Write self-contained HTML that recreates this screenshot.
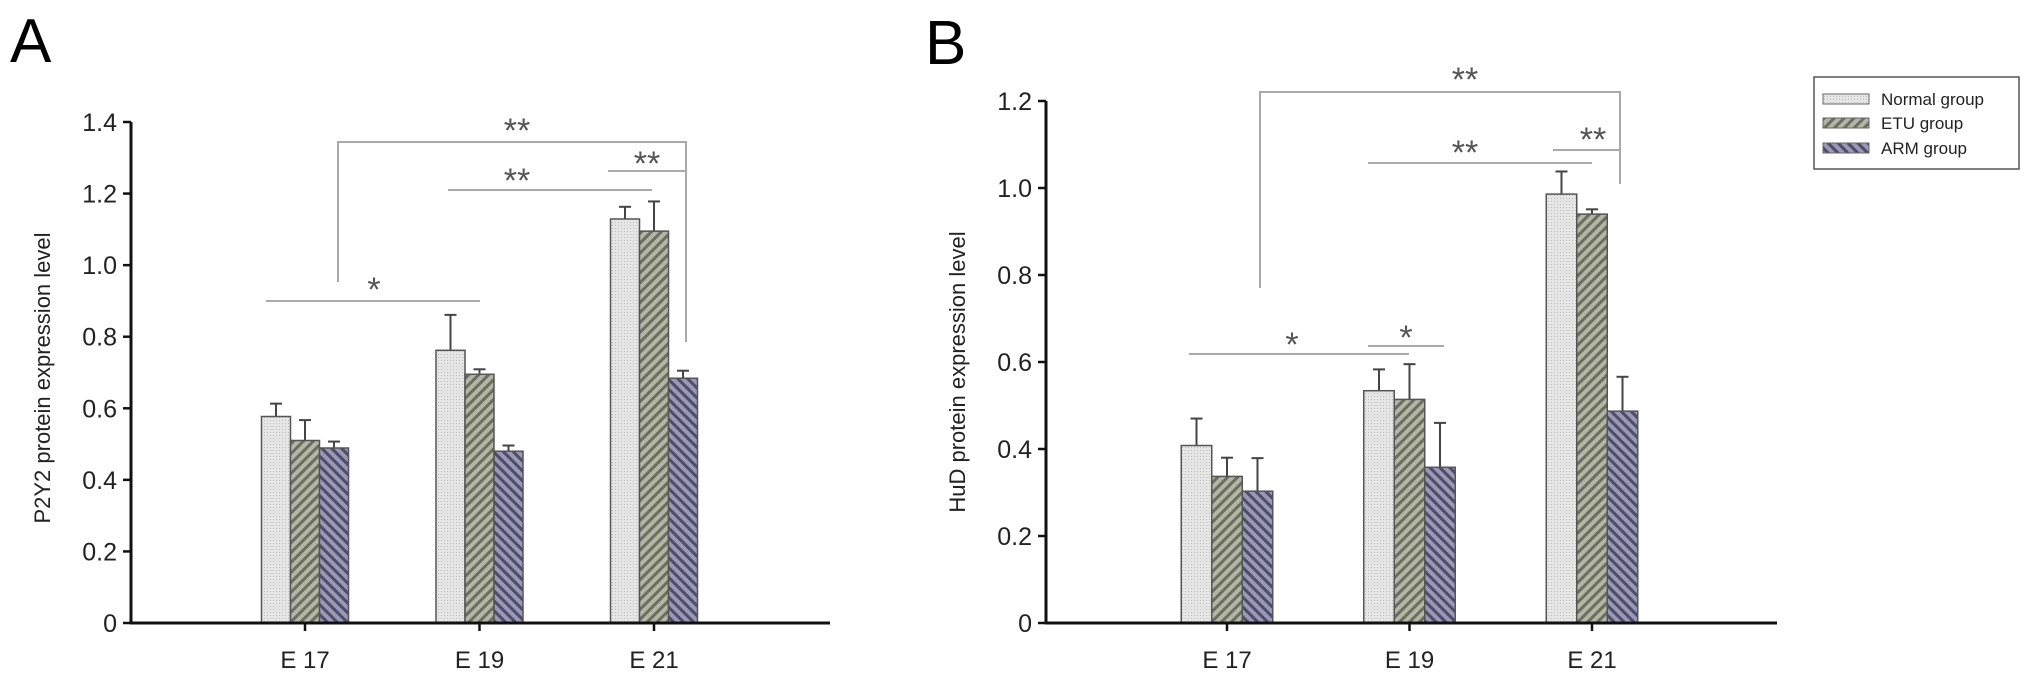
<!DOCTYPE html>
<html><head><meta charset="utf-8"><style>
html,body{margin:0;padding:0;background:#fff;}
svg{display:block;font-family:"Liberation Sans",Arial,sans-serif;}
</style></head><body>
<svg id="fig" width="2031" height="684" viewBox="0 0 2031 684" xmlns="http://www.w3.org/2000/svg">
<defs>
<pattern id="pDot" width="3" height="3" patternUnits="userSpaceOnUse"><rect width="3" height="3" fill="#e6e6e6"/><rect width="1" height="1" fill="#bdbdbd"/></pattern>
<pattern id="pEtu" width="7" height="7" patternUnits="userSpaceOnUse" patternTransform="rotate(45)"><rect width="7" height="7" fill="#b4b6a4"/><rect width="3" height="7" fill="#6b6d60"/></pattern>
<pattern id="pArm" width="7" height="7" patternUnits="userSpaceOnUse" patternTransform="rotate(-45)"><rect width="7" height="7" fill="#9a97b8"/><rect width="3" height="7" fill="#4f4c66"/></pattern>
</defs>
<text x="10" y="62" font-size="62" fill="#000">A</text>
<text x="925" y="64" font-size="62" fill="#000">B</text>
<g id="panelA"></g>
<g id="panelB"></g>
<g>
<rect x="1814" y="77" width="205" height="92" fill="#fff" stroke="#555" stroke-width="1.5"/>
<g><rect x="1823" y="94" width="46" height="10" fill="url(#pDot)" stroke="#666"/><text x="1881" y="105" font-size="17" fill="#222">Normal group</text></g>
<g><rect x="1823" y="118" width="46" height="10" fill="url(#pEtu)" stroke="#666"/><text x="1881" y="129" font-size="17" fill="#222">ETU group</text></g>
<g><rect x="1823" y="143" width="46" height="10" fill="url(#pArm)" stroke="#666"/><text x="1881" y="154" font-size="17" fill="#222">ARM group</text></g>
</g>
</svg>
<script>
const categories = ["E 17", "E 19", "E 21"];
const seriesNames = ["Normal group", "ETU group", "ARM group"];
const aNormal = [0.577, 0.762, 1.129];
const aEtu = [0.51, 0.695, 1.095];
const aArm = [0.489, 0.48, 0.684];
const aNormalErr = [0.036, 0.099, 0.034];
const aEtuErr = [0.057, 0.014, 0.083];
const aArmErr = [0.018, 0.016, 0.021];
const aTicks = [0, 0.2, 0.4, 0.6, 0.8, 1.0, 1.2, 1.4];
const aTickLabels = ["0", "0.2", "0.4", "0.6", "0.8", "1.0", "1.2", "1.4"];
const bNormal = [0.408, 0.534, 0.986];
const bEtu = [0.337, 0.514, 0.94];
const bArm = [0.303, 0.358, 0.487];
const bNormalErr = [0.062, 0.049, 0.052];
const bEtuErr = [0.043, 0.081, 0.011];
const bArmErr = [0.076, 0.102, 0.079];
const bTicks = [0, 0.2, 0.4, 0.6, 0.8, 1.0, 1.2];
const bTickLabels = ["0", "0.2", "0.4", "0.6", "0.8", "1.0", "1.2"];

const NS = "http://www.w3.org/2000/svg";
function mk(parent, tag, attrs, text) {
  const e = document.createElementNS(NS, tag);
  for (const k in attrs) e.setAttribute(k, attrs[k]);
  if (text !== undefined) e.textContent = text;
  parent.appendChild(e);
  return e;
}
function drawPanel(g, cfg) {
  const y = v => cfg.y0 - (v / cfg.ymax) * (cfg.y0 - cfg.yTop);
  const x = i => cfg.xFirst + i * cfg.xStep;
  const fills = ["url(#pDot)", "url(#pEtu)", "url(#pArm)"];
  const vals = [cfg.normal, cfg.etu, cfg.arm];
  const errs = [cfg.normalErr, cfg.etuErr, cfg.armErr];
  const keys = ["normal", "etu", "arm"];
  // bars
  categories.forEach((c, i) => {
    for (let s = 0; s < 3; s++) {
      const bx = x(i) - 1.5 * cfg.bw + s * cfg.bw;
      const top = y(vals[s][i]);
      const eTop = y(vals[s][i] + errs[s][i]);
      const cx = bx + cfg.bw / 2;
      const el = mk(g, "line", {x1: cx, x2: cx, y1: top, y2: eTop, stroke: "#444", "stroke-width": 2});
      
      
      const cap = mk(g, "line", {x1: cx - 6, x2: cx + 6, y1: eTop, y2: eTop, stroke: "#444", "stroke-width": 2});
      
      
      const r = mk(g, "rect", {x: bx, y: top, width: cfg.bw, height: cfg.y0 - top, fill: fills[s], stroke: "#555", "stroke-width": 1.5});
      
      
    }
    const t = mk(g, "line", {x1: x(i), x2: x(i), y1: cfg.y0, y2: cfg.y0 + 8, stroke: "#111", "stroke-width": 2.5});
    
    
    const l = mk(g, "text", {x: x(i), y: 668, "font-size": 24, fill: "#222", "text-anchor": "middle"}, c);
    
    
  });
  // axes
  const ax = mk(g, "line", {x1: cfg.xAxis, x2: cfg.xEnd, y1: cfg.y0, y2: cfg.y0, stroke: "#111", "stroke-width": 3});
  
  
  const ay = mk(g, "line", {x1: cfg.xAxis, x2: cfg.xAxis, y1: cfg.y0 + 1.5, y2: cfg.yTop, stroke: "#111", "stroke-width": 3});
  
  
  cfg.ticks.forEach((v, k) => {
    const t = mk(g, "line", {x1: cfg.xAxis - 8, x2: cfg.xAxis, y1: y(v), y2: y(v), stroke: "#111", "stroke-width": 2.5});
    
    
    const l = mk(g, "text", {x: cfg.xAxis - 14, y: y(v) + 9, "font-size": 25, fill: "#222", "text-anchor": "end"}, cfg.tickLabels[k]);
    
    
  });
  const yt = mk(g, "text", {x: 0, y: 0, "font-size": 22, fill: "#222", "text-anchor": "middle", transform: "translate(" + cfg.titleX + "," + cfg.titleY + ") rotate(-90)"}, cfg.title);
  
  
  // significance
  cfg.sig.forEach(s => {
    const p = mk(g, "polyline", {points: s.pts, fill: "none", stroke: "#aaa", "stroke-width": 2});
    
    
    const st = mk(g, "text", {x: s.tx, y: s.ty + 16, "font-size": 34, fill: "#555", "text-anchor": "middle"}, s.label);
    
    
  });
}
drawPanel(document.getElementById("panelA"), {
  y0: 623, yTop: 122, ymax: 1.4, xAxis: 131, xEnd: 830, xFirst: 305, xStep: 174.5, bw: 29,
  normal: aNormal, etu: aEtu, arm: aArm, normalErr: aNormalErr, etuErr: aEtuErr, armErr: aArmErr,
  ticks: aTicks, tickLabels: aTickLabels, title: "P2Y2 protein expression level", titleX: 50, titleY: 378,
  sig: [
    {pts: "338,282 338,142 686,142 686,342", tx: 517, ty: 126, label: "**"},
    {pts: "448,190 652,190", tx: 517, ty: 176, label: "**"},
    {pts: "608,171 686,171", tx: 647, ty: 159, label: "**"},
    {pts: "266,301 480,301", tx: 374, ty: 285, label: "*"}
  ]
});
drawPanel(document.getElementById("panelB"), {
  y0: 623, yTop: 101, ymax: 1.2, xAxis: 1046, xEnd: 1777, xFirst: 1227, xStep: 182.5, bw: 30.5,
  normal: bNormal, etu: bEtu, arm: bArm, normalErr: bNormalErr, etuErr: bEtuErr, armErr: bArmErr,
  ticks: bTicks, tickLabels: bTickLabels, title: "HuD protein expression level", titleX: 965, titleY: 372,
  sig: [
    {pts: "1260,288 1260,92 1620,92 1620,184", tx: 1465, ty: 75, label: "**"},
    {pts: "1368,163 1592,163", tx: 1465, ty: 148, label: "**"},
    {pts: "1553,150 1620,150", tx: 1593, ty: 135, label: "**"},
    {pts: "1189,354 1409,354", tx: 1292, ty: 340, label: "*"},
    {pts: "1368,346 1444,346", tx: 1406, ty: 333, label: "*"}
  ]
});
</script>
</body></html>
